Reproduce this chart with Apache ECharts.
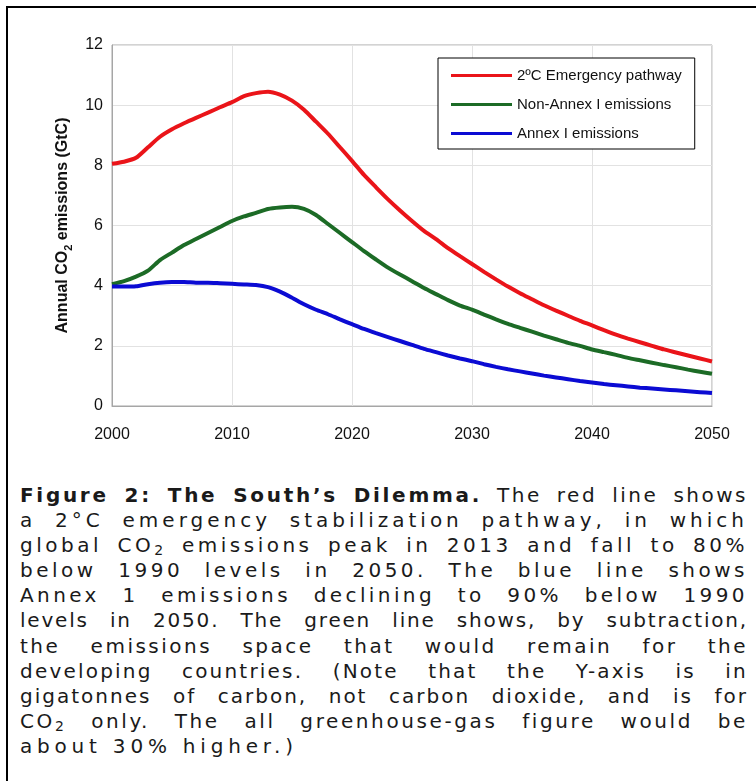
<!DOCTYPE html>
<html>
<head>
<meta charset="utf-8">
<script src="https://cdn.jsdelivr.net/npm/echarts@6/dist/echarts.min.js"></script>
<style>
  html, body { margin: 0; padding: 0; background: #fff; }
  .fig-box {
    position: relative;
    width: 756px;
    height: 781px;
    overflow: hidden;
  }
  .fig-frame {
    position: absolute;
    left: 6px;
    top: 6px;
    width: 760px;
    height: 790px;
    border-top: 2px solid #000;
    border-left: 2px solid #000;
  }
  #chart {
    position: absolute;
    left: 0;
    top: 0;
    width: 756px;
    height: 470px;
  }
  .caption {
    position: absolute;
    left: 20px;
    top: 483px;
    width: 728px;
    font-family: "DejaVu Sans", Verdana, sans-serif;
    font-size: 20px;
    line-height: 25.1px;
    color: #1a1a1a;
  }
  .caption div {
    text-align: justify;
    text-align-last: justify;
    white-space: nowrap;
  }
  .caption div.last {
    text-align-last: left;
  }
  .caption sub {
    font-size: 14px;
    vertical-align: -3px;
    line-height: 0;
  }
</style>
</head>
<body>
<div class="fig-box">
  <div class="fig-frame"></div>
  <div id="chart"></div>
  <div class="caption">
    <div style="letter-spacing:2.5px"><b style="letter-spacing:2.7px">Figure 2: The South’s Dilemma.</b> The red line shows</div>
    <div style="letter-spacing:4px">a 2°C emergency stabilization pathway, in which</div>
    <div style="letter-spacing:3.5px">global CO<sub>2</sub> emissions peak in 2013 and fall to 80%</div>
    <div style="letter-spacing:3.5px">below 1990 levels in 2050. The blue line shows</div>
    <div style="letter-spacing:3.4px">Annex 1 emissions declining to 90% below 1990</div>
    <div style="letter-spacing:1.8px">levels in 2050. The green line shows, by subtraction,</div>
    <div style="letter-spacing:2.5px">the emissions space that would remain for the</div>
    <div style="letter-spacing:2.2px">developing countries. (Note that the Y-axis is in</div>
    <div style="letter-spacing:2px">gigatonnes of carbon, not carbon dioxide, and is for</div>
    <div style="letter-spacing:2.6px">CO<sub>2</sub> only. The all greenhouse-gas figure would be</div>
    <div class="last" style="letter-spacing:4.8px">about 30% higher.)</div>
  </div>
</div>

<script>
// years 2000..2050
const years = [];
for (let y = 2000; y <= 2050; y++) years.push(y);

const emergencyPathway = [
  8.05, 8.12, 8.25, 8.6, 8.95, 9.2, 9.4, 9.58, 9.75, 9.93,
  10.1, 10.3, 10.4, 10.45, 10.35, 10.15, 9.85, 9.45, 9.05, 8.6,
  8.15, 7.68, 7.27, 6.87, 6.5, 6.15, 5.82, 5.55, 5.25, 4.98,
  4.72, 4.46, 4.21, 3.97, 3.75, 3.55, 3.35, 3.17, 3.0, 2.83,
  2.68, 2.52, 2.37, 2.24, 2.12, 2.0, 1.88, 1.78, 1.68, 1.58,
  1.48
];
const nonAnnexI = [
  4.05, 4.15, 4.3, 4.5, 4.85, 5.1, 5.35, 5.55, 5.75, 5.95,
  6.15, 6.3, 6.42, 6.55, 6.6, 6.62, 6.55, 6.35, 6.05, 5.75,
  5.45, 5.15, 4.87, 4.6, 4.37, 4.15, 3.92, 3.72, 3.52, 3.34,
  3.2, 3.04, 2.88, 2.73, 2.6, 2.47, 2.34, 2.22, 2.1, 2.0,
  1.88, 1.79, 1.7, 1.6, 1.52, 1.44, 1.36, 1.29, 1.21, 1.14,
  1.07
];
const annexI = [
  3.97, 3.97, 3.98, 4.05, 4.1, 4.12, 4.12, 4.1, 4.1, 4.08,
  4.06, 4.04, 4.02, 3.95, 3.8, 3.6, 3.38, 3.2, 3.05, 2.88,
  2.72, 2.56, 2.42, 2.29, 2.16, 2.03, 1.9, 1.79, 1.68, 1.58,
  1.49, 1.39, 1.3, 1.22, 1.15, 1.08, 1.01, 0.95, 0.89, 0.83,
  0.78, 0.73, 0.69, 0.65, 0.61, 0.58, 0.55, 0.52, 0.49, 0.46,
  0.43
];

const seriesNames = ["2ºC Emergency pathway", "Non-Annex I emissions", "Annex I emissions"];
const seriesColors = ["#ea1419", "#1c6b26", "#0b0bd3"];
const seriesValues = [emergencyPathway, nonAnnexI, annexI];

const labelFont = "Liberation Sans, Arial, sans-serif";

const myChart = echarts.init(document.getElementById("chart"));

let seriesList = seriesNames.map((name, i) => ({
  name: name,
  type: "line",
  smooth: 0.2,
  symbol: "none",
  lineStyle: { width: 4, color: seriesColors[i] },
  itemStyle: { color: seriesColors[i] },
  data: years.map((yr, j) => [yr, seriesValues[i][j]]),
}));

let option = {
  animation: false,
  backgroundColor: "transparent",
  grid: {
    left: 112,
    top: 45,
    width: 600,
    height: 361,
    show: true,
    borderColor: "#a6a6a6",
    borderWidth: 1,
  },
  legend: {
    orient: "vertical",
    left: 438,
    top: 58,
    padding: [9, 13, 7, 13],
    itemWidth: 61,
    itemHeight: 3,
    itemGap: 12,
    icon: "rect",
    borderColor: "#000",
    borderWidth: 1,
    backgroundColor: "#fff",
    textStyle: { fontFamily: labelFont, fontSize: 15, lineHeight: 17, color: "#111" },
    data: seriesNames,
  },
  xAxis: {
    type: "value",
    min: 2000,
    max: 2050,
    interval: 10,
    axisLine: { lineStyle: { color: "#a6a6a6" } },
    axisTick: { show: false },
    splitLine: { show: true, lineStyle: { color: "#e2e2e2" } },
    axisLabel: {
      margin: 21,
      fontFamily: labelFont,
      fontSize: 16,
      color: "#111",
      formatter: (v) => String(v),
    },
  },
  yAxis: {
    type: "value",
    min: 0,
    max: 12,
    interval: 2,
    axisLine: { show: true, lineStyle: { color: "#a6a6a6" } },
    axisTick: { show: false },
    splitLine: { show: true, lineStyle: { color: "#e2e2e2" } },
    axisLabel: { margin: 9, fontFamily: labelFont, fontSize: 16, color: "#111" },
    name: "{a|Annual CO}{s|2}{a| emissions (GtC)}",
    nameLocation: "middle",
    nameRotate: 90,
    nameGap: 36,
    nameTextStyle: {
      rich: {
        a: { fontFamily: labelFont, fontWeight: "bold", fontSize: 16, color: "#111", lineHeight: 24 },
        s: { fontFamily: labelFont, fontWeight: "bold", fontSize: 11, color: "#111", lineHeight: 11, verticalAlign: "bottom" },
      },
    },
  },
  series: seriesList,
};
myChart.setOption(option);
</script>
</body>
</html>
